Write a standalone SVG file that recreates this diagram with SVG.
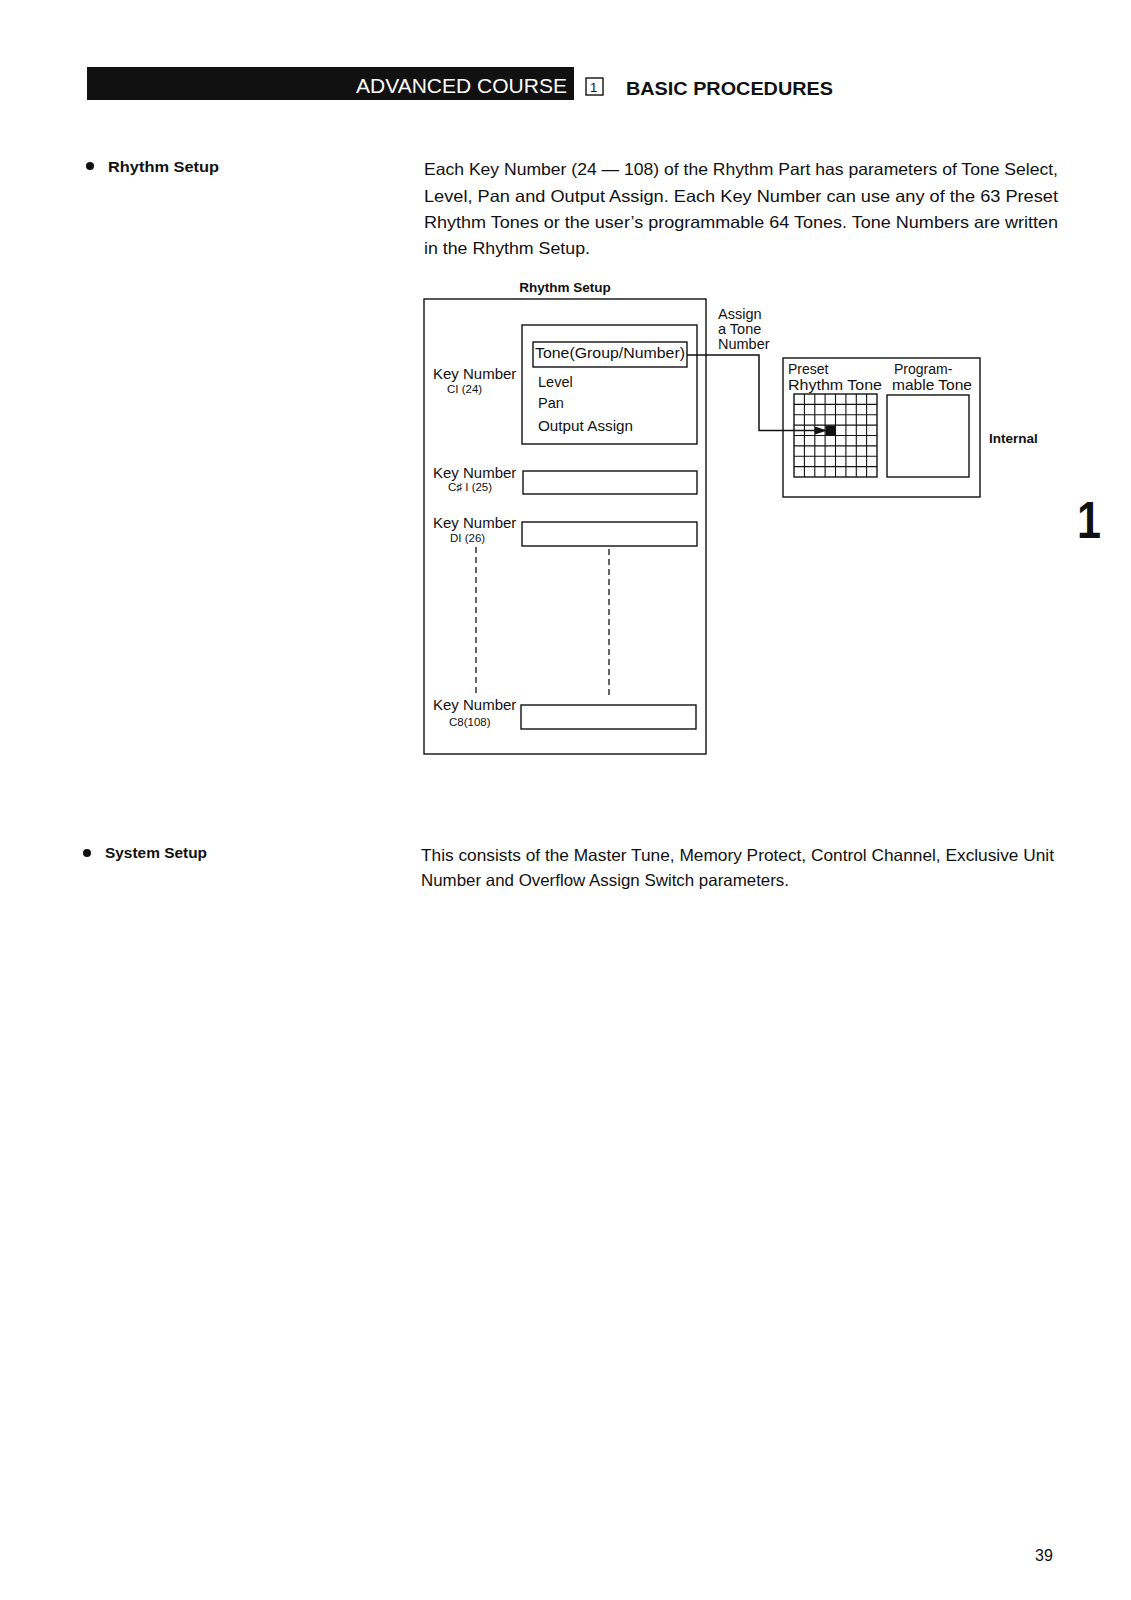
<svg xmlns="http://www.w3.org/2000/svg" width="1131" height="1600" viewBox="0 0 1131 1600">
<style>
text{font-family:"Liberation Sans",Arial,sans-serif;fill:#111}
.b{font-weight:bold}
.body{font-size:16.5px}
.box{fill:none;stroke:#111;stroke-width:1.4}
.lbl{font-size:15px}
.sub{font-size:11.5px}
.dash{stroke:#111;stroke-width:1.3;stroke-dasharray:6 4;fill:none}
</style>
<defs>
<marker id="ah" markerWidth="12" markerHeight="8" refX="11" refY="4" orient="auto" markerUnits="userSpaceOnUse">
<path d="M0,0 L12,4 L0,8 Z" fill="#111"/>
</marker>
</defs>
<rect width="1131" height="1600" fill="#fff"/>

<g id="header">
<rect x="87" y="67" width="487" height="33" fill="#111"/>
<text x="356" y="93" style="font-size:20px;fill:#fff" textLength="211" lengthAdjust="spacingAndGlyphs">ADVANCED COURSE</text>
<rect x="586" y="78" width="17" height="17" class="box"/>
<text x="590" y="92" style="font-size:13px">1</text>
<text x="626" y="95" class="b" style="font-size:19px" textLength="207" lengthAdjust="spacingAndGlyphs">BASIC PROCEDURES</text>
</g>

<g id="rhythm-setup-heading">
<circle cx="90" cy="166" r="4" fill="#111"/>
<text x="108" y="172" class="b" style="font-size:15.5px" textLength="111" lengthAdjust="spacingAndGlyphs">Rhythm Setup</text>
</g>

<g id="paragraph1" class="body">
<text x="424" y="175" textLength="634" lengthAdjust="spacingAndGlyphs">Each Key Number (24 — 108) of the Rhythm Part has parameters of Tone Select,</text>
<text x="424" y="202" textLength="634" lengthAdjust="spacingAndGlyphs">Level, Pan and Output Assign. Each Key Number can use any of the 63 Preset</text>
<text x="424" y="228" textLength="634" lengthAdjust="spacingAndGlyphs">Rhythm Tones or the user’s programmable 64 Tones. Tone Numbers are written</text>
<text x="424" y="254" textLength="166" lengthAdjust="spacingAndGlyphs">in the Rhythm Setup.</text>
</g>

<g id="rhythm-setup-box">
<text x="565" y="292" class="b" style="font-size:13.5px" text-anchor="middle">Rhythm Setup</text>
<rect x="424" y="299" width="282" height="455" class="box"/>
</g>

<g id="key-c1">
<text x="433" y="379" class="lbl">Key Number</text>
<text x="447" y="393" class="sub">CI (24)</text>
<rect x="522" y="325" width="175" height="119" class="box"/>
<rect x="533" y="342" width="154" height="25" class="box"/>
<text x="535" y="358" style="font-size:15px" textLength="150" lengthAdjust="spacingAndGlyphs">Tone(Group/Number)</text>
<text x="538" y="387" style="font-size:14.5px">Level</text>
<text x="538" y="408" style="font-size:14.5px">Pan</text>
<text x="538" y="431" style="font-size:14.5px" textLength="95" lengthAdjust="spacingAndGlyphs">Output Assign</text>
</g>

<g id="key-cs1">
<text x="433" y="478" class="lbl">Key Number</text>
<text x="448" y="491" class="sub">C♯ I (25)</text>
<rect x="523" y="471" width="174" height="23" class="box"/>
</g>

<g id="key-d1">
<text x="433" y="528" class="lbl">Key Number</text>
<text x="450" y="542" class="sub">DI (26)</text>
<rect x="522" y="522" width="175" height="24" class="box"/>
</g>

<g id="key-c8">
<text x="433" y="710" class="lbl">Key Number</text>
<text x="449" y="726" class="sub">C8(108)</text>
<rect x="521" y="705" width="175" height="24" class="box"/>
</g>

<g id="internal">
<rect x="783" y="358" width="197" height="139" class="box"/>
<text x="788" y="374" style="font-size:14px">Preset</text>
<text x="788" y="390" style="font-size:14.5px" textLength="94" lengthAdjust="spacingAndGlyphs">Rhythm Tone</text>
<text x="894" y="374" style="font-size:14px">Program-</text>
<text x="892" y="390" style="font-size:14.5px" textLength="80" lengthAdjust="spacingAndGlyphs">mable Tone</text>
<g id="preset-grid">
<rect x="794" y="394" width="83" height="83" class="box"/>
<path d="M804.4,394V477M814.8,394V477M825.1,394V477M835.5,394V477M845.9,394V477M856.3,394V477M866.6,394V477M794,404.4H877M794,414.8H877M794,425.1H877M794,435.5H877M794,445.9H877M794,456.3H877M794,466.6H877" stroke="#111" stroke-width="1.1" fill="none"/>
<rect x="825.5" y="425.5" width="10" height="10" fill="#111"/>
</g>
<rect x="887" y="395" width="82" height="82" class="box"/>
<text x="989" y="443" class="b" style="font-size:13.5px">Internal</text>
</g>

<g id="connectors">
<path d="M687,355 H759 V430.5 H826" fill="none" stroke="#111" stroke-width="1.5" marker-end="url(#ah)"/>
<line x1="476" y1="547" x2="476" y2="693" class="dash"/>
<line x1="609" y1="549" x2="609" y2="697" class="dash"/>
</g>

<g id="assign-label" style="font-size:14.5px">
<text x="718" y="319">Assign</text>
<text x="718" y="334">a Tone</text>
<text x="718" y="349">Number</text>
</g>

<g id="system-setup-heading">
<circle cx="87" cy="853" r="4" fill="#111"/>
<text x="105" y="858" class="b" style="font-size:15.5px" textLength="102" lengthAdjust="spacingAndGlyphs">System Setup</text>
</g>

<g id="paragraph2" class="body">
<text x="421" y="861" textLength="633" lengthAdjust="spacingAndGlyphs">This consists of the Master Tune, Memory Protect, Control Channel, Exclusive Unit</text>
<text x="421" y="886" textLength="368" lengthAdjust="spacingAndGlyphs">Number and Overflow Assign Switch parameters.</text>
</g>

<g id="chapter-mark">
<text x="1077" y="538" class="b" style="font-size:52px" textLength="24" lengthAdjust="spacingAndGlyphs">1</text>
</g>

<g id="page-number">
<text x="1035" y="1561" style="font-size:16px">39</text>
</g>
</svg>
